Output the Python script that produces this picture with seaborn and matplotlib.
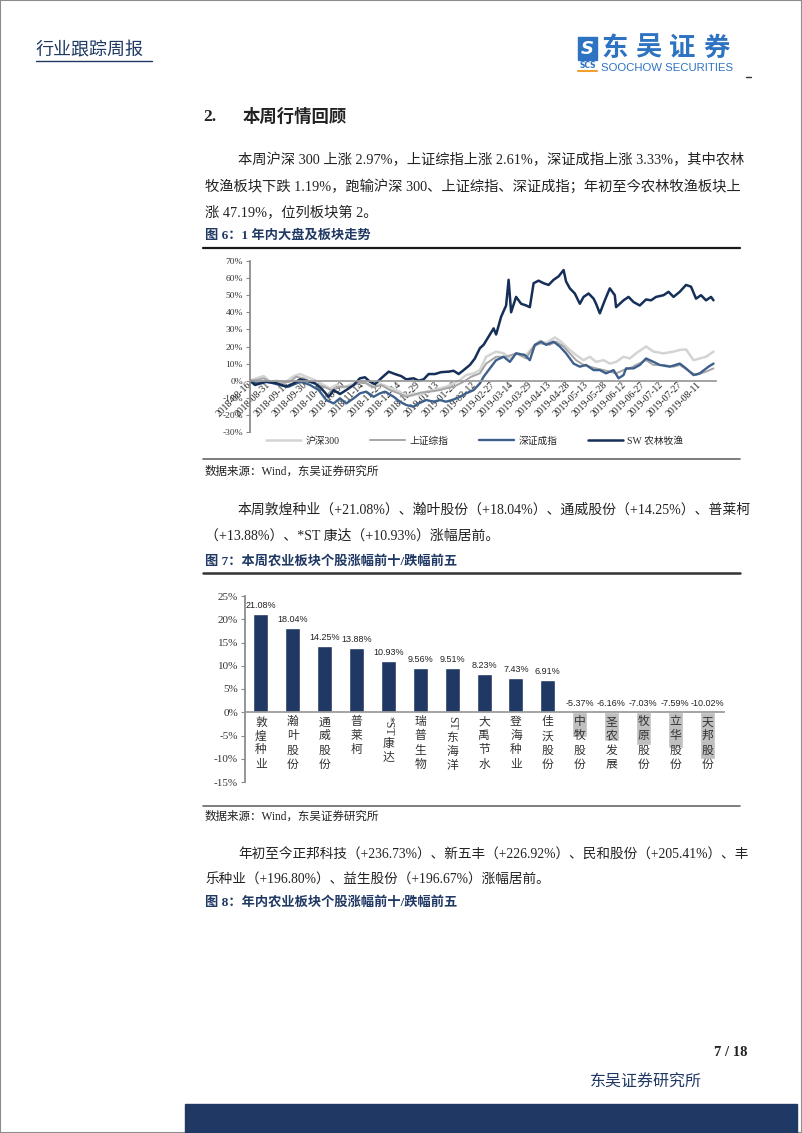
import pandas as pd
import matplotlib.pyplot as plt
import seaborn as sns
from matplotlib.lines import Line2D
from matplotlib.patches import Rectangle

W, H = 802, 1133
NAVY = '#1f3864'
LOGO = '#2e72c2'
BODY = ['Liberation Serif', 'Noto Sans CJK SC']
CJK = ['Noto Sans CJK SC', 'DejaVu Sans']

# ---- chart 1 data: day offset from 2018-08-16, cumulative change (%)
start = pd.Timestamp('2018-08-16')
hs300_days = [0, 5, 11, 16, 21, 28, 35, 40, 45, 52, 59, 64, 69, 75, 80, 85, 91, 96, 101, 107,
              113, 120, 125, 131, 136, 141, 147, 152, 157, 163, 168, 173, 179, 184, 189, 197, 203, 208, 213, 221,
              227, 232, 237, 244, 249, 256, 261, 267, 272, 277, 283, 288, 293, 299, 304, 309, 317, 323, 331, 339,
              344, 349, 355, 360, 365, 371]
hs300_vals = [0, 1.4, 2.7, -0.6, 0, -1.2, 2.7, 3.9, 2.3, 0.4, -2.5, -4.5, -2.5, -3.9, -2.5, -1.2, 0, -3.1, -1.5, -2.5,
              -4.5, -6.4, -9, -7.4, -8.4, -6.4, -5.5, -4.5, -3.5, -1.6, 0.4, 3.3, 4.3, 6.2, 14, 17, 16, 13, 16, 15,
              20, 23.4, 22, 25.3, 22.8, 18, 15, 12, 14, 11, 12, 10, 11, 14, 13, 16, 20, 17, 16, 17,
              18, 18.3, 12, 13, 14, 17]
shzz_days = [0, 5, 11, 16, 24, 32, 37, 43, 51, 59, 65, 72, 80, 88, 93, 99, 105, 112, 119, 125,
             131, 136, 144, 152, 157, 163, 171, 177, 184, 189, 197, 205, 213, 221, 227, 232, 240, 245, 251, 256,
             261, 267, 272, 277, 283, 288, 293, 299, 304, 309, 317, 323, 331, 339, 344, 352, 357, 365, 371]
shzz_vals = [0, 0.4, 1.4, -0.6, -1.6, -0.6, 2.3, 1.4, -1.6, -3.5, -5.5, -3.5, -3.5, -1.2, -1.5, -3.9, -2.5, -5.5, -7.4, -9.4,
             -8.4, -7, -6.4, -5.5, -4.5, -3.5, -0.6, 2.3, 4.3, 10, 14, 14, 16, 13, 20, 21.8, 21, 22.8, 20, 16,
             12, 9.2, 8.2, 7.2, 6.2, 5.3, 4.3, 6.2, 7.2, 9.2, 12, 9.2, 9.2, 8.2, 9.2, 5.3, 3.3, 5.3, 7.2]
szcz_days = [0, 5, 11, 16, 24, 31, 37, 41, 48, 55, 61, 67, 72, 77, 83, 88, 93, 99, 104, 108,
             115, 120, 125, 131, 135, 141, 147, 152, 157, 163, 168, 173, 179, 184, 187, 192, 197, 203, 208, 213,
             220, 224, 228, 233, 237, 243, 248, 253, 259, 264, 269, 275, 280, 285, 291, 295, 299, 301, 307, 312,
             317, 323, 328, 336, 344, 349, 355, 360, 367, 371]
szcz_vals = [0, -1.6, -0.6, -1, -2.5, -3.5, -1.6, -0.6, -2.5, -5.5, -11.3, -13.3, -10.3, -13.3, -10.3, -7.4, -6.4, -9.4, -7.4, -6.4,
             -9.4, -12.3, -14.2, -15.2, -13.3, -11.3, -12.3, -11.3, -12.3, -11, -9.4, -7.4, -5.5, -1.6, 2.3, 7.2, 12, 14, 11, 16,
             15, 12, 21, 22.8, 21, 22.8, 20, 16, 10, 8.2, 9.2, 6.2, 6.2, 4.3, 6.2, 1.4, 3.3, 7.2, 7.2, 9.2,
             13, 11, 9.2, 8.2, 10, 7.2, 3.3, 4.3, 8.2, 10]
sw_days = [0, 4, 9, 13, 21, 29, 35, 40, 45, 52, 57, 63, 67, 72, 77, 83, 88, 92, 96, 100,
           105, 111, 116, 121, 125, 131, 135, 139, 143, 148, 153, 159, 163, 167, 171, 176, 180, 184, 187, 192,
           195, 197, 201, 205, 207, 209, 213, 217, 221, 224, 227, 231, 235, 239, 243, 247, 251, 253, 256, 260,
           264, 267, 271, 275, 277, 280, 284, 288, 292, 293, 299, 303, 307, 312, 317, 321, 325, 331, 335, 339,
           344, 349, 353, 357, 361, 365, 369, 371]
sw_vals = [0, -2.5, -1.5, -0.6, -1.5, -3.5, -1.5, 0.8, 0, -1.5, -4.5, -9.4, -5.5, -7.8, -5.5, -2.5, 1.4, 2, -0.6, -2,
           1.4, 5.3, 3.9, 2.7, 0.8, 1.4, 0, 0.8, 3.9, 3.9, 5, 5.3, 5.8, 3.9, 6.2, 9.2, 13, 19, 21, 27,
           30.6, 27, 37.4, 44, 59, 40, 49, 45, 44, 43, 57, 58.5, 57, 56, 59, 61, 64.7, 58, 54, 51,
           45, 49, 51, 48, 45, 39.4, 47, 54, 50, 43, 47, 49, 46, 44, 47.5, 47, 49, 50, 52, 49,
           52, 56, 55, 48, 50, 47, 49, 47]

# ---- chart 2 data
stocks = ['敦煌种业', '瀚叶股份', '通威股份', '普莱柯', '*ST康达', '瑞普生物', 'ST东海洋', '大禹节水',
          '登海种业', '佳沃股份', '中牧股份', '圣农发展', '牧原股份', '立华股份', '天邦股份']
changes = [21.08, 18.04, 14.25, 13.88, 10.93, 9.56, 9.51, 8.23, 7.43, 6.91, -5.37, -6.16, -7.03, -7.59, -10.02]

sns.set_theme(style='white')
plt.rcParams['font.family'] = BODY

fig = plt.figure(figsize=(W / 100, H / 100), dpi=100)


def fx(x):
    return x / W


def fy(y):
    return 1 - y / H


def text(x, y, s, **kw):
    kw.setdefault('va', 'center')
    kw.setdefault('color', '#222222')
    fig.text(fx(x), fy(y), s, **kw)


def hline(x1, x2, y, **kw):
    fig.add_artist(Line2D([fx(x1), fx(x2)], [fy(y), fy(y)], transform=fig.transFigure, **kw))


# page frame and header
fig.add_artist(Rectangle((0, 0), 1, 1, transform=fig.transFigure, fill=False, edgecolor='#8c8c8c', lw=1.5))
text(36, 50, '行业跟踪周报', fontsize=13, color=NAVY, family=CJK)
hline(36, 152, 61, color=NAVY, lw=1)
fig.add_artist(Rectangle((fx(578), fy(60)), fx(19), 23 / H, transform=fig.transFigure, color=LOGO))
text(587.5, 49, 'S', fontsize=13, color='white', ha='center', weight='bold', style='italic', family='DejaVu Sans')
text(587.5, 66, 'SCS', fontsize=5.5, color=LOGO, ha='center', weight='bold', family='DejaVu Sans')
hline(578, 597, 71, color='#f0a030', lw=1.5)
for k, ch in enumerate('东吴证券'):
    text(601 + k * 34, 48, ch, fontsize=19, color=LOGO, weight='bold', family=CJK)
text(601, 68, 'SOOCHOW SECURITIES', fontsize=8.2, color=LOGO, family='Liberation Sans')
hline(746, 751, 77, color='#333333', lw=1)

# section text
text(203, 117, '2.', fontsize=12.5, weight='bold')
text(243, 117, '本周行情回顾', fontsize=12.5, weight='bold')
text(238, 160, '本周沪深 300 上涨 2.97%，上证综指上涨 2.61%，深证成指上涨 3.33%，其中农林', fontsize=10.3)
text(205, 186, '牧渔板块下跌 1.19%，跑输沪深 300、上证综指、深证成指；年初至今农林牧渔板块上', fontsize=10.3)
text(205, 212, '涨 47.19%，位列板块第 2。', fontsize=10.3)
text(205, 236, '图 6：1 年内大盘及板块走势', fontsize=9.5, weight='bold', color=NAVY)
hline(203, 740, 248, color='#1a1a1a', lw=1.6)
hline(203, 740, 459, color='#666666', lw=1.2)
text(205, 472, '数据来源：Wind，东吴证券研究所', fontsize=8.3)
text(238, 510, '本周敦煌种业（+21.08%）、瀚叶股份（+18.04%）、通威股份（+14.25%）、普莱柯', fontsize=10)
text(205, 536, '（+13.88%）、*ST 康达（+10.93%）涨幅居前。', fontsize=10)
text(205, 561, '图 7：本周农业板块个股涨幅前十/跌幅前五', fontsize=9.5, weight='bold', color=NAVY)
hline(203, 740, 573, color='#333333', lw=1.8)
hline(203, 740, 806, color='#666666', lw=1.2)
text(205, 817, '数据来源：Wind，东吴证券研究所', fontsize=8.3)
text(238, 855, '年初至今正邦科技（+236.73%）、新五丰（+226.92%）、民和股份（+205.41%）、丰', fontsize=9.8)
text(205, 880, '乐种业（+196.80%）、益生股份（+196.67%）涨幅居前。', fontsize=9.8)
text(205, 902, '图 8：年内农业板块个股涨幅前十/跌幅前五', fontsize=9.5, weight='bold', color=NAVY)

# footer
text(747, 1052, '7 / 18', fontsize=10.5, weight='bold', ha='right')
text(646, 1082, '东吴证券研究所', fontsize=11.5, color=NAVY, ha='center', family=CJK)
fig.add_artist(Rectangle((fx(185), 0), fx(797 - 185), 29 / H, transform=fig.transFigure, color=NAVY))

# ---- chart 1: index lines
ax1 = fig.add_axes([fx(250), fy(432), fx(716 - 250), (432 - 261) / H])
series = [
    ('沪深300', hs300_days, hs300_vals, '#d4d4d4', 1.8),
    ('上证综指', shzz_days, shzz_vals, '#a6a6a6', 1.4),
    ('深证成指', szcz_days, szcz_vals, '#3d5f8c', 1.7),
    ('SW 农林牧渔', sw_days, sw_vals, '#162f58', 1.8),
]
for name, days, vals, col, lw in series:
    dates = start + pd.to_timedelta(days, unit='D')
    sns.lineplot(x=dates, y=vals, color=col, linewidth=lw, label=name, ax=ax1)
ax1.set_ylim(-30, 70)
ax1.set_xlim(start, start + pd.Timedelta(days=373))
ax1.tick_params(axis='x', length=0, pad=2)
ax1.tick_params(axis='y', length=3, width=0.8, color='#888888', pad=2, left=True)
ax1.set_yticks(range(-30, 71, 10))
ax1.set_yticklabels([f'{v}%' for v in range(-30, 71, 10)], fontsize=6.8, color='#333333')
ticks = [start + pd.Timedelta(days=15 * k) for k in range(25)]
ax1.set_xticks(ticks)
ax1.set_xticklabels([t.strftime('%Y-%m-%d') for t in ticks])
for s in ['top', 'right']:
    ax1.spines[s].set_visible(False)
ax1.spines['left'].set_color('#888888')
ax1.spines['bottom'].set_position(('data', 0))
ax1.spines['bottom'].set_color('#999999')
ax1.set_xlabel('')
ax1.set_ylabel('')
ax1.legend(loc='center', bbox_to_anchor=(fx(475), fy(441)), bbox_transform=fig.transFigure,
           ncol=4, frameon=False, fontsize=7, handlelength=3.6, columnspacing=3.2, handletextpad=0.4)

# ---- chart 2: weekly top / bottom stocks
ax2 = fig.add_axes([fx(245), fy(782), fx(724 - 245), (782 - 596) / H])
colors = ['#1f3864' if v > 0 else '#bfbfbf' for v in changes]
sns.barplot(x=stocks, y=changes, hue=stocks, palette=colors, legend=False, width=0.47,
            saturation=1, ax=ax2)
ax2.set_ylim(-15, 25)
ax2.set_xlim(-0.5, 14.53)
ax2.set_yticks(range(-15, 26, 5))
ax2.set_yticklabels([f'{v}%' for v in range(-15, 26, 5)], fontsize=8, color='#333333')
ax2.set_xticks([])
ax2.tick_params(axis='y', length=3, width=0.8, color='#888888', pad=2, left=True)
for s in ['top', 'right']:
    ax2.spines[s].set_visible(False)
ax2.spines['left'].set_color('#888888')
ax2.spines['bottom'].set_position(('data', 0))
ax2.spines['bottom'].set_color('#999999')
ax2.set_xlabel('')
ax2.set_ylabel('')

for i, v in enumerate(changes):
    ax2.annotate(f'{v:.2f}%', (i, max(v, 0)), xytext=(0, 3), textcoords='offset points',
                 ha='center', va='bottom', fontsize=6.5, family='Liberation Sans', color='#222222')
    off = 3
    rest = stocks[i]
    for lat in ['*ST', 'ST']:
        if rest.startswith(lat):
            ax2.annotate(lat, (i, 0), xytext=(0, -off), textcoords='offset points', rotation=-90,
                         ha='center', va='top', fontsize=8.5, color='#333333')
            off += len(lat) * 4.6 + 2
            rest = rest[len(lat):]
            break
    for ch in rest:
        ax2.annotate(ch, (i, 0), xytext=(0, -off), textcoords='offset points',
                     ha='center', va='top', fontsize=8.5, color='#333333')
        off += 10.1

# style the date labels last so nothing resets them
for lab in ax1.get_xticklabels():
    lab.set_fontsize(7)
    lab.set_color('#262626')
    lab.set_rotation(45)
    lab.set_ha('right')
    lab.set_va('center')
    lab.set_rotation_mode('anchor')

fig.savefig('out.png', dpi=100)
